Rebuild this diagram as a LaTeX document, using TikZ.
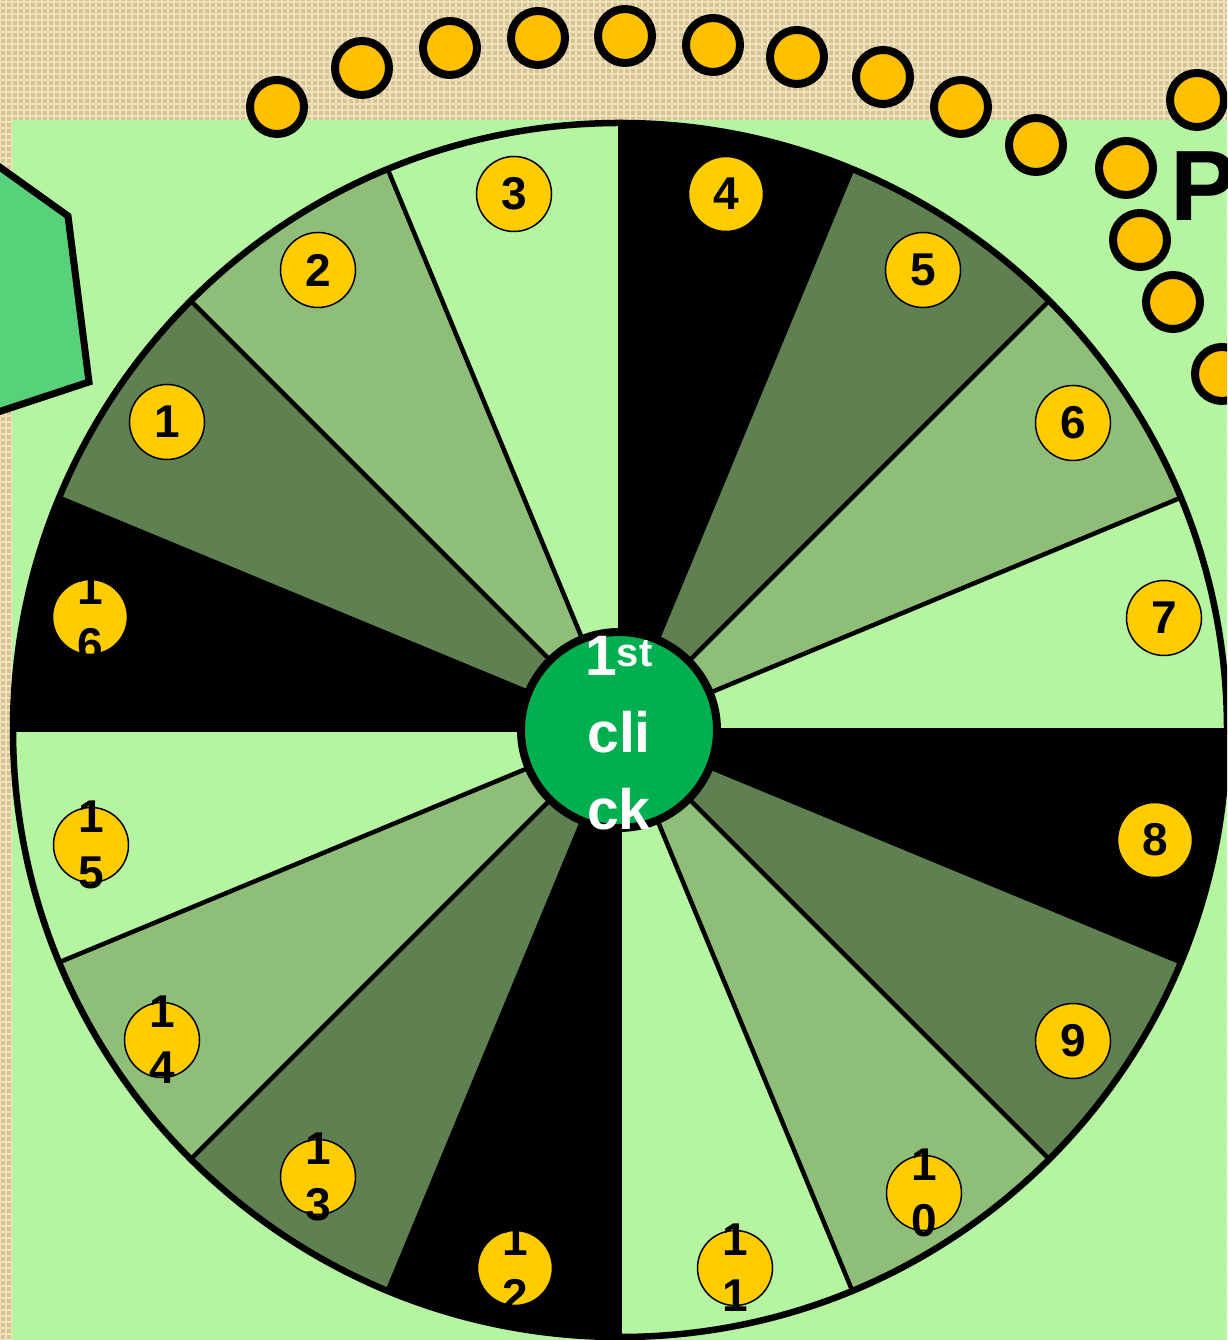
\documentclass[tikz,border=0pt]{standalone}
\usepackage{fontspec}
\setmainfont{Liberation Sans}
\usetikzlibrary{patterns.meta}
\definecolor{burlap}{HTML}{D8C493}
\definecolor{burlapthread}{HTML}{EFE3BF}
\definecolor{meadow}{HTML}{B5F4A0}
\definecolor{sagedark}{HTML}{5F8050}
\definecolor{sagemid}{HTML}{8FBE78}
\definecolor{padgreen}{HTML}{57D27B}
\definecolor{clickgreen}{HTML}{00B050}
\definecolor{token}{HTML}{FFC000}
\definecolor{numgold}{HTML}{FFCC00}

\begin{document}
\begin{tikzpicture}[x=1pt,y=1pt,
  trackdot/.style={circle,draw=black,line width=8pt,fill=token,minimum size=54pt,inner sep=0pt},
  numdisc/.style={circle,draw=black,line width=1.5pt,fill=numgold,minimum size=75pt,inner sep=0pt},
  numtext/.style={inner sep=0pt,align=center,font=\bfseries\fontsize{46}{56}\selectfont},
]
\useasboundingbox (0,0) rectangle (1227,1340);
\begin{scope}
\clip (0,0) rectangle (1227,1340);

% burlap backdrop and board
\fill[burlap] (0,0) rectangle (1227,1340);
\fill[pattern={Lines[angle=0,distance=6pt,line width=1.5pt]},pattern color=burlapthread] (0,0) rectangle (1227,1340);
\fill[pattern={Lines[angle=90,distance=6pt,line width=1.5pt]},pattern color=burlapthread] (0,0) rectangle (1227,1340);
\fill[meadow] (12,0) rectangle (1227,1220);

% start pad
\draw[line width=7pt,fill=padgreen] (-20,1187) -- (68,1124) -- (89,958) -- (-20,922) -- cycle;

% wheel
\foreach \k/\col in {1/sagedark,2/sagemid,3/meadow,4/black,5/sagedark,6/sagemid,7/meadow,8/black,
                     9/sagedark,10/sagemid,11/meadow,12/black,13/sagedark,14/sagemid,15/meadow,16/black}
  \fill[\col] (620,610) -- +({157.5-22.5*\k}:607) arc[start angle={157.5-22.5*\k},delta angle=22.5,radius=607] -- cycle;
\foreach \i in {0,...,15}
  \draw[line width=4.5pt] (620,610) -- +({22.5*\i}:607);
\draw[line width=6.5pt] (620,610) circle[radius=607];

% numbered spaces
\foreach \x/\y [count=\k] in {167/918,318/1070,514/1146,726/1146,923/1070,1073/917,1164/722,1155/500,
                              1073/299,924/147,735/72,515/72,318/163,162/300,91/495,90/723}
  \node[numdisc] (n\k) at (\x,\y) {};
\foreach \k in {1,...,9}
  \node[numtext] (t\k) at (n\k) {\k};
\foreach \k/\u in {10/0,11/1,12/2,13/3,14/4,15/5,16/6}
  \node[numtext] (t\k) at (n\k) {1\\\u};

% hub
\node[circle,draw=black,line width=8pt,fill=clickgreen,minimum size=196pt,inner sep=0pt] (hub) at (619,610) {};
\node[white,inner sep=0pt,align=center,anchor=base,font=\bfseries\fontsize{57}{77}\selectfont] (hubtext) at (619,510) {1\textsuperscript{st}\\cli\\ck};

% track of dots
\foreach \x/\y [count=\i] in {277/1233,362/1272,450/1292,538/1302,625/1304,713/1295,797/1283,883/1263,
                              961/1233,1036/1195,1126/1172,1140/1100,1173/1038,1222/966,1197/1240}
  \node[trackdot] (dot\i) at (\x,\y) {};
\node[anchor=west,inner sep=0pt,font=\bfseries\fontsize{100}{100}\selectfont] (plabel) at (1170,1154) {P};
\end{scope}
\end{tikzpicture}
\end{document}
